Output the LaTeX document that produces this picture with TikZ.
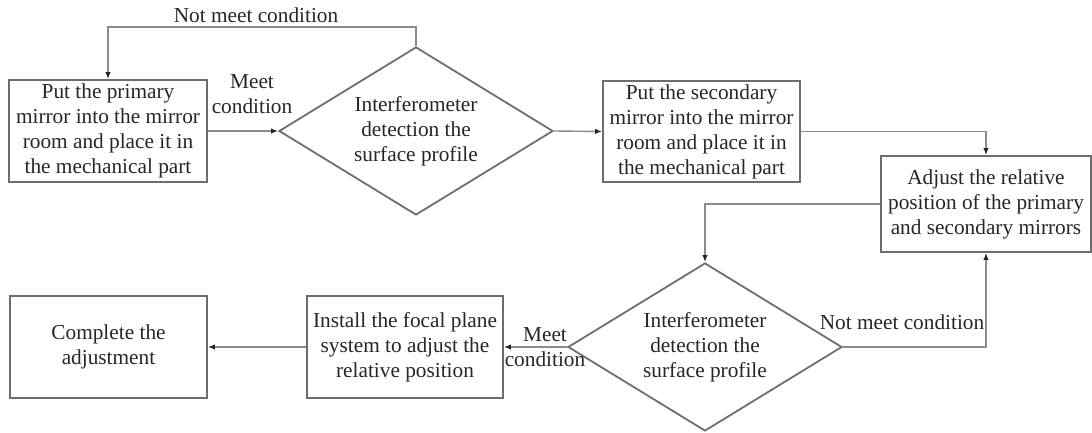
\documentclass[tikz,border=0pt]{standalone}
\usepackage{fontspec}
\setmainfont{Liberation Serif}
\usetikzlibrary{shapes.geometric,arrows.meta}
\definecolor{boxline}{HTML}{6E6E6E}
\definecolor{conn}{HTML}{8C8C8C}
\definecolor{txt}{HTML}{262626}
\begin{document}
\begin{tikzpicture}[x=1pt,y=-1pt,
  every node/.style={text=txt,font=\fontsize{21.3}{25}\selectfont},
  procbox/.style={draw=boxline,line width=1.8pt,rectangle,align=center,inner sep=0pt},
  decision/.style={draw=boxline,line width=1.8pt,diamond,aspect=1.63,align=center,inner sep=0pt,minimum width=274pt,minimum height=168pt},
  conn/.style={draw=conn,line width=1.4pt,-{Latex[length=7pt,width=5.5pt,color=txt]}},
  lbl/.style={align=center,inner sep=0pt}]
\useasboundingbox (0,0) rectangle (1092,433);
\node[procbox,minimum width=198pt,minimum height=102pt] (b1) at (108,131)
  {Put the primary\\mirror into the mirror\\room and place it in\\the mechanical part};
\node[decision] (d1) at (416,131) {Interferometer\\detection the\\surface profile};
\node[procbox,minimum width=197pt,minimum height=101pt] (b2) at (701.5,131.5)
  {Put the secondary\\mirror into the mirror\\room and place it in\\the mechanical part};
\node[procbox,minimum width=210pt,minimum height=96pt] (b3) at (986,204)
  {Adjust the relative\\position of the primary\\and secondary mirrors};
\node[decision] (d2) at (705,347) {Interferometer\\detection the\\surface profile};
\node[procbox,minimum width=196pt,minimum height=102pt] (b4) at (405,347)
  {Install the focal plane\\system to adjust the\\relative position};
\node[procbox,minimum width=197pt,minimum height=102pt] (b5) at (108.5,347)
  {Complete the\\adjustment};
\coordinate (top) at (416,27);
\draw[conn] (d1.north) -- (top) -| (b1.north);
\node[lbl] (l1) at (256,15) {Not meet condition};
\draw[conn] (b1.east) -- (d1.west);
\node[lbl] (l2) at (252,94) {Meet\\condition};
\draw[conn] (d1.east) -- (b2.west);
\draw[conn] (b2.east) -| (b3.north);
\draw[conn] (b3.west) -| (d2.north);
\draw[conn] (d2.east) -| (b3.south);
\node[lbl] (l3) at (902,322) {Not meet condition};
\draw[conn] (d2.west) -- (b4.east);
\node[lbl] (l4) at (545,347) {Meet\\condition};
\draw[conn] (b4.west) -- (b5.east);
\end{tikzpicture}
\end{document}
